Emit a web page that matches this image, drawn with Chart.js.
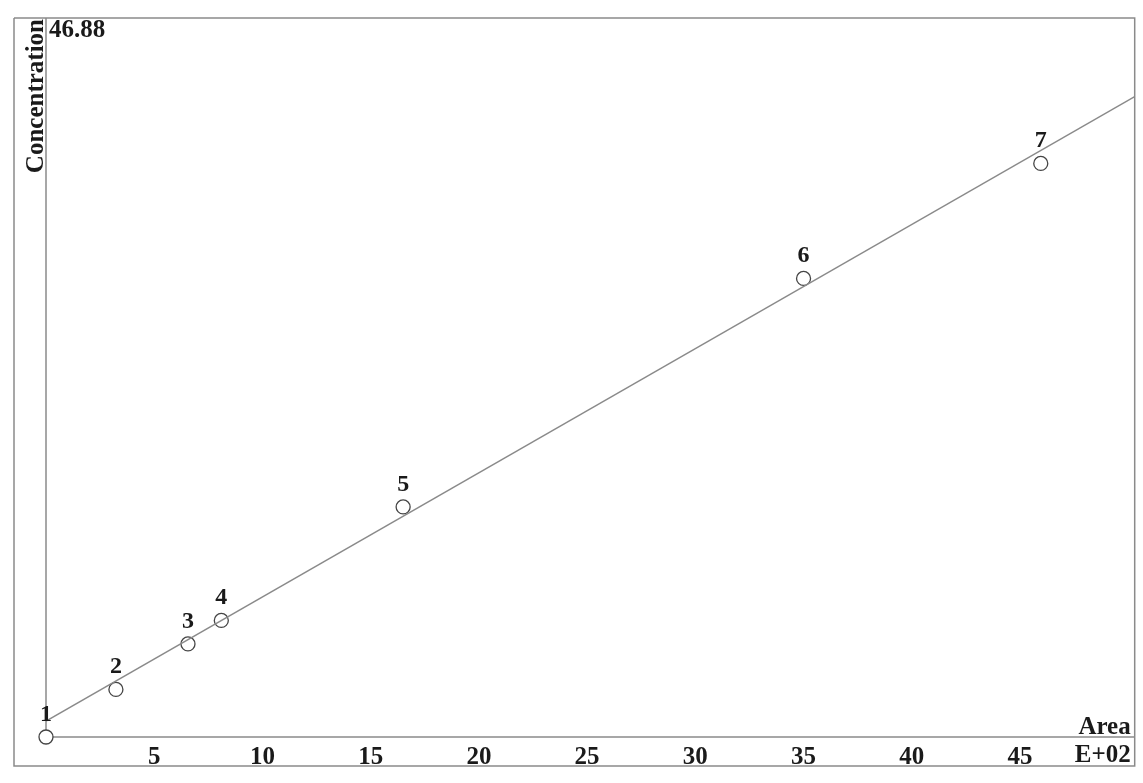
<!DOCTYPE html>
<html lang="en">
<head>
<meta charset="UTF-8">
<title>Calibration - Concentration x Area</title>
<script src="https://cdn.jsdelivr.net/npm/chart.js@4.4.1/dist/chart.umd.min.js"></script>
<style>
  html, body { margin: 0; padding: 0; background: #fff; }
  #chartBox { width: 1143px; height: 783px; }
</style>
</head>
<body>
<div id="chartBox"><canvas id="calibChart" width="1143" height="783"></canvas></div>
<script>
// ------------------- dados -------------------
const pointIds = ['1', '2', '3', '4', '5', '6', '7'];
const areaE2 = [0, 3.23, 6.56, 8.1, 16.5, 35.0, 45.96];        // área (E+02)
const concentration = [0, 3.1, 6.07, 7.6, 15.0, 29.9, 37.4];
const fitArea = [0, 50.3];                                      // reta de calibração
const fitConc = [1.04, 41.75];
const xTicks = [5, 10, 15, 20, 25, 30, 35, 40, 45];
const xMax = 50.3;
const yMax = 46.88;

// ------------------- estilos -------------------
const FONT = '"Liberation Serif", "Times New Roman", serif';
const INK = '#1a1a1a';
const LINE = '#8a8a8a';
const OUTER_LEFT = 14;
const OUTER_BOTTOM = 766;

// moldura + textos fixos (o gráfico original é de um integrador antigo)
const framePlugin = {
  id: 'frame',
  beforeDatasetsDraw(chart) {
    const { ctx, chartArea: a } = chart;
    ctx.save();
    ctx.strokeStyle = LINE;
    ctx.lineWidth = 1.5;
    ctx.beginPath();
    // moldura externa
    ctx.moveTo(OUTER_LEFT, a.top);
    ctx.lineTo(OUTER_LEFT, OUTER_BOTTOM);
    ctx.lineTo(a.right, OUTER_BOTTOM);
    ctx.lineTo(a.right, a.top);
    ctx.lineTo(OUTER_LEFT, a.top);
    // eixos
    ctx.moveTo(a.left, a.top);
    ctx.lineTo(a.left, a.bottom);
    ctx.lineTo(a.right, a.bottom);
    ctx.stroke();
    ctx.restore();
  },
  afterDatasetsDraw(chart) {
    const { ctx, chartArea: a, scales } = chart;
    ctx.save();
    ctx.fillStyle = INK;
    ctx.font = `bold 25px ${FONT}`;

    // máximo do eixo y no canto
    ctx.textAlign = 'left';
    ctx.textBaseline = 'top';
    ctx.fillText(scales.y.max.toFixed(2), a.left + 3, a.top);

    // título vertical
    ctx.save();
    ctx.translate(a.left - 3, a.top + 1);
    ctx.rotate(-Math.PI / 2);
    ctx.textAlign = 'right';
    ctx.textBaseline = 'alphabetic';
    ctx.fillText('Concentration', 0, 0);
    ctx.restore();

    // título do eixo x e expoente
    ctx.textAlign = 'right';
    ctx.textBaseline = 'alphabetic';
    ctx.fillText('Area', a.right - 4, a.bottom - 3);
    ctx.textBaseline = 'top';
    ctx.fillText('E+02', a.right - 4, a.bottom + 6);

    // números dos pontos
    ctx.font = `bold 24px ${FONT}`;
    ctx.textAlign = 'center';
    ctx.textBaseline = 'alphabetic';
    const meta = chart.getDatasetMeta(1);
    meta.data.forEach((pt, i) => {
      ctx.fillText(pointIds[i], pt.x, pt.y - 16);
    });
    ctx.restore();
  }
};

// ------------------- Chart.js -------------------
const canvas = document.getElementById('calibChart');

new Chart(canvas.getContext('2d'), {
  type: 'scatter',
  data: {
    datasets: [
      {
        type: 'line',
        label: 'Calibration',
        data: fitArea.map((x, i) => ({ x, y: fitConc[i] })),
        borderColor: LINE,
        borderWidth: 1.5,
        pointRadius: 0,
        fill: false,
        tension: 0
      },
      {
        label: 'Levels',
        data: areaE2.map((x, i) => ({ x, y: concentration[i] })),
        pointRadius: 7,
        pointBorderColor: '#444',
        pointBackgroundColor: '#fff',
        pointBorderWidth: 1.3,
        clip: false
      }
    ]
  },
  options: {
    responsive: false,
    animation: false,
    devicePixelRatio: 1,
    layout: { padding: { left: 0, top: 18, right: 6, bottom: 0 } },
    plugins: { legend: { display: false }, tooltip: { enabled: false } },
    scales: {
      x: {
        type: 'linear',
        min: 0,
        max: xMax,
        grid: { display: false, drawTicks: false },
        border: { display: false },
        afterBuildTicks: (s) => { s.ticks = xTicks.map(v => ({ value: v })); },
        afterFit: (s) => { s.height = 46; },
        ticks: {
          font: { family: FONT, size: 25, weight: 'bold' },
          color: INK,
          padding: 6,
          maxRotation: 0,
          autoSkip: false
        }
      },
      y: {
        type: 'linear',
        min: 0,
        max: yMax,
        grid: { display: false, drawTicks: false },
        border: { display: false },
        ticks: { display: false },
        afterFit: (s) => { s.width = 46; }
      }
    }
  },
  plugins: [framePlugin]
});
</script>
</body>
</html>
